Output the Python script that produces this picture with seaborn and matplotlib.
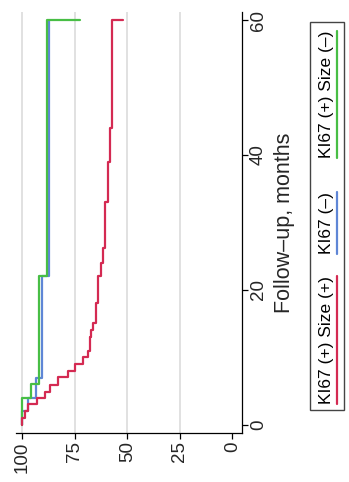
import matplotlib
matplotlib.use("Agg")
import matplotlib.pyplot as plt
import seaborn as sns
import pandas as pd
from matplotlib.lines import Line2D
from matplotlib.patches import Rectangle

# Kaplan-Meier step data: event times (months) and survival (%) after each event
red_time = [0, 1.0, 2.0, 3.1, 4.0, 4.9, 5.9, 7.1, 8.0, 9.1, 10.1, 11.0, 13.1, 14.1,
            15.1, 18.0, 22.0, 24.0, 26.2, 33.0, 39.0, 44.0, 60.0]
red_surv = [100, 98.7, 97.4, 93.1, 89.2, 86.8, 83.2, 78.1, 74.9, 70.9, 68.5, 67.8,
            67.3, 66.2, 64.9, 63.8, 62.5, 61.4, 60.5, 59.4, 58.4, 57.4, 52.0]

blue_time = [0, 2.0, 4.0, 6.9, 22.0, 60.0]
blue_surv = [100, 97.1, 93.6, 90.8, 87.3, 87.3]

green_time = [0, 4.0, 6.1, 22.0, 60.0]
green_surv = [100, 95.9, 92.0, 88.0, 72.5]

groups = ["KI67 (+) Size (+)", "KI67 (\u2013)", "KI67 (+) Size (\u2013)"]
colors = ["#D42A52", "#5F86D6", "#48BE45"]

surv_ticks = [100, 75, 50, 25, 0]
time_ticks = [0, 20, 40, 60]

sns.set_theme(style="white")
plt.rcParams["font.family"] = ["Liberation Sans", "DejaVu Sans"]

df = pd.concat([
    pd.DataFrame({"time": red_time, "surv": red_surv, "group": groups[0]}),
    pd.DataFrame({"time": blue_time, "surv": blue_surv, "group": groups[1]}),
    pd.DataFrame({"time": green_time, "surv": green_surv, "group": groups[2]}),
], ignore_index=True)

fig = plt.figure(figsize=(3.49, 4.82), dpi=100)
ax = fig.add_axes([16 / 349, 1 - 433 / 482, (241.7 - 16) / 349, (433 - 12) / 482])

# survival on the horizontal axis (reversed), follow-up time running upward
for order, (g, c) in enumerate([(groups[1], colors[1]), (groups[2], colors[2]), (groups[0], colors[0])]):
    sub = df[df["group"] == g]
    sns.lineplot(data=sub, x="surv", y="time", orient="y", sort=False, estimator=None,
                 color=c, lw=1.6, drawstyle="steps-pre", ax=ax, legend=False, zorder=3 + order)

ax.set_xlim(103, -4.5)
ax.set_ylim(-1.2, 61.2)
ax.set_xticks(surv_ticks)
ax.set_xticklabels([str(v) for v in surv_ticks])
ax.set_yticks(time_ticks)
ax.set_yticklabels([str(v) for v in time_ticks])

for v in surv_ticks[:-1]:
    ax.axvline(v, color="#DEDEDE", lw=1.3, zorder=1)

ax.yaxis.tick_right()
ax.yaxis.set_label_position("right")
ax.set_xlabel("")
ax.set_ylabel("Follow\u2013up, months", fontsize=15.5, rotation=90, labelpad=5)

for s in ["left", "top"]:
    ax.spines[s].set_visible(False)
for s in ["bottom", "right"]:
    ax.spines[s].set_color("black")
    ax.spines[s].set_linewidth(0.9)

ax.tick_params(axis="x", bottom=True, length=4, width=0.9, color="black", pad=2,
               labelsize=13.5, labelrotation=90)
ax.tick_params(axis="y", right=True, left=False, length=4, width=0.9, color="black", pad=2,
               labelsize=13.5, labelrotation=90)
for lab in ax.get_yticklabels():
    lab.set_verticalalignment("center")

# horizontal legend turned on its side: text with a coloured underline
box_x0, box_x1 = 309.5 / 349, 343.5 / 349
box_y0, box_y1 = 1 - 410 / 482, 1 - 22 / 482
fig.add_artist(Rectangle((box_x0, box_y0), box_x1 - box_x0, box_y1 - box_y0,
                         transform=fig.transFigure, fill=False, ec="#444444", lw=1.0))
entry_start = [404, 254, 158]  # bottom pixel of each entry text
fig.canvas.draw()
renderer = fig.canvas.get_renderer()
for g, c, yb in zip(groups, colors, entry_start):
    t = fig.text(326 / 349, 1 - yb / 482, g, rotation=90, fontsize=12.5,
                 ha="center", va="bottom", color="black")
    bb = t.get_window_extent(renderer)
    y0, y1 = bb.y0 / fig.bbox.height, bb.y1 / fig.bbox.height
    fig.add_artist(Line2D([336.5 / 349, 336.5 / 349], [y0, y1], transform=fig.transFigure,
                          color=c, lw=1.6))

fig.savefig("out.png", dpi=100)
